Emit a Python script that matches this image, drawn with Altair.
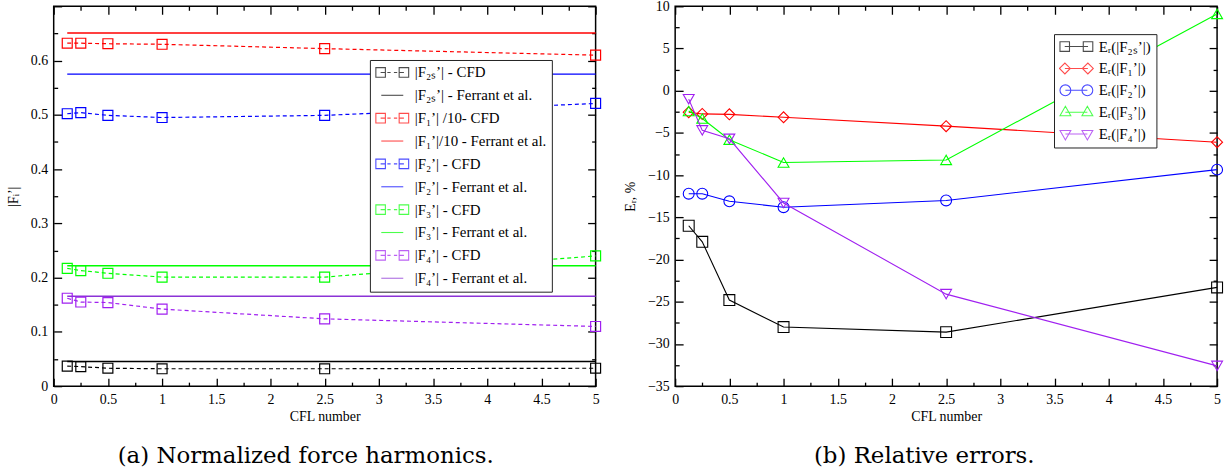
import altair as alt
import pandas as pd

# ---------------- data ----------------
cfl = [0.125, 0.25, 0.5, 1.0, 2.5, 5.0]
cfl_ferrant = [0.125, 5.0]

f2s_cfd = [0.037, 0.036, 0.033, 0.032, 0.032, 0.033]
f1_cfd = [0.632, 0.632, 0.631, 0.630, 0.622, 0.610]
f2_cfd = [0.502, 0.504, 0.499, 0.495, 0.499, 0.521]
f3_cfd = [0.217, 0.213, 0.208, 0.201, 0.201, 0.240]
f4_cfd = [0.162, 0.155, 0.154, 0.142, 0.124, 0.110]

f2s_ferrant = 0.0456
f1_ferrant = 0.651
f2_ferrant = 0.575
f3_ferrant = 0.222
f4_ferrant = 0.1655

er_f2s = [-16.0, -17.9, -24.8, -28.0, -28.6, -23.3]
er_f1 = [-2.55, -2.75, -2.8, -3.15, -4.2, -6.1]
er_f2 = [-12.2, -12.2, -13.1, -13.8, -13.0, -9.35]
er_f3 = [-2.4, -3.3, -5.8, -8.5, -8.2, 9.1]
er_f4 = [-1.0, -4.7, -5.7, -13.3, -24.1, -32.6]

left_names = ["|F₂ₛ’| - CFD", "|F₂ₛ’| - Ferrant et al.",
              "|F₁’| /10- CFD", "|F₁’|/10 - Ferrant et al.",
              "|F₂’| - CFD", "|F₂’| - Ferrant et al.",
              "|F₃’| - CFD", "|F₃’| - Ferrant et al.",
              "|F₄’| - CFD", "|F₄’| - Ferrant et al."]
right_names = ["Eᵣ(|F₂ₛ’|)", "Eᵣ(|F₁’|)", "Eᵣ(|F₂’|)", "Eᵣ(|F₃’|)", "Eᵣ(|F₄’|)"]

cfd_colors = ["#000000", "#ff0000", "#0000ff", "#00ff00", "#a020f0"]
ferrant_colors = ["#000000", "#ff0000", "#0000ff", "#00ff00", "#8b33d6"]
right_colors = ["#000000", "#ff0000", "#0000ff", "#00ff00", "#a020f0"]
right_shapes = ["square", "diamond", "circle", "triangle-up", "triangle-down"]

x_ticks = [0, 0.5, 1, 1.5, 2, 2.5, 3, 3.5, 4, 4.5, 5]
x_minor = [0.25, 0.75, 1.25, 1.75, 2.25, 2.75, 3.25, 3.75, 4.25, 4.75]
yl_labels = [0, 0.1, 0.2, 0.3, 0.4, 0.5, 0.6]
yl_ticks = [0, 0.1, 0.2, 0.3, 0.4, 0.5, 0.6, 0.7]
yl_minor = [0.05, 0.15, 0.25, 0.35, 0.45, 0.55, 0.65]
yr_ticks = [-35, -30, -25, -20, -15, -10, -5, 0, 5, 10]
yr_minor = [-32.5, -27.5, -22.5, -17.5, -12.5, -7.5, -2.5, 2.5, 7.5]

# ---------------- styling helpers ----------------
FONT = "Liberation Serif"
W, H = 545, 382

CFD_PATH = ("M-1,-0.29H-0.42V0.29H-1Z M-0.71,0H-0.42 M-0.3,0H-0.1 M0.1,0H0.3 "
            "M0.42,-0.29H1V0.29H0.42Z M0.42,0H0.71")
FER_PATH = "M-0.67,0H0.67"
R_PATHS = [
    "M-1,-0.29H-0.42V0.29H-1Z M0.42,-0.29H1V0.29H0.42Z M-0.71,0H0.71",
    "M-1.03,0L-0.7,-0.33L-0.37,0L-0.7,0.33Z M0.37,0L0.7,-0.33L1.03,0L0.7,0.33Z M-0.7,0H0.7",
    "M-1,0A0.33,0.33 0 1,0 -0.34,0A0.33,0.33 0 1,0 -1,0Z M0.34,0A0.33,0.33 0 1,0 1,0A0.33,0.33 0 1,0 0.34,0Z M-0.67,0H0.67",
    "M-1,0.22L-0.67,-0.36L-0.34,0.22Z M0.34,0.22L0.67,-0.36L1,0.22Z M-0.67,0H0.67",
    "M-1,-0.22L-0.67,0.36L-0.34,-0.22Z M0.34,-0.22L0.67,0.36L1,-0.22Z M-0.67,0H0.67",
]


def label_axis(orient, values, title, fmt="~g"):
    return alt.Axis(orient=orient, values=values, format=fmt, title=title,
                    ticks=False, domain=False, grid=False,
                    labelFlush=False, labelOverlap=False, labelPadding=6,
                    labelFont=FONT, labelFontSize=14, labelColor="black",
                    titleFont=FONT, titleFontSize=14, titleFontWeight="normal",
                    titleColor="black", titlePadding=4 if orient == "bottom" else 10)


def tick_axis(orient, values, size):
    return alt.Axis(orient=orient, values=values, labels=False, title=None,
                    ticks=True, tickSize=alt.ExprRef(expr=str(-size)),
                    tickColor="black", tickWidth=1.3, domain=False, grid=False)


def axis_layers(xs, ys, xmaj, xmin, ymaj, ymin):
    dummy = pd.DataFrame({"x": [0.0], "y": [0.0]})
    combos = [("bottom", "left", xmaj, ymaj, 8), ("top", "right", xmaj, ymaj, 8),
              ("bottom", "left", xmin, ymin, 4), ("top", "right", xmin, ymin, 4)]
    out = []
    for xo, yo, xv, yv, sz in combos:
        out.append(
            alt.Chart(dummy).mark_point(opacity=0).encode(
                x=alt.X("x:Q", scale=xs, axis=tick_axis(xo, xv, sz)),
                y=alt.Y("y:Q", scale=ys, axis=tick_axis(yo, yv, sz)),
            ).transform_filter("false")
        )
    return out


def legend(lx, ly, row_pad):
    return alt.Legend(title=None, orient="none", legendX=lx, legendY=ly,
                      padding=5, strokeColor="#222222", fillColor="white",
                      labelFont=FONT, labelFontSize=15, labelColor="black",
                      labelLimit=400, symbolSize=1089, symbolStrokeWidth=1.1,
                      symbolFillColor="transparent", symbolOffset=0,
                      labelOffset=5, rowPadding=row_pad, clipHeight=15)


def caption(text, dx):
    return alt.TitleParams(text=text, orient="bottom", anchor="middle",
                           font="DejaVu Serif", fontSize=23, fontWeight="normal",
                           color="black", offset=21, dx=dx)


# ---------------- left panel ----------------
xs_l = alt.Scale(domain=[0, 5], nice=False, zero=False)
ys_l = alt.Scale(domain=[0, 0.7], nice=False, zero=False)

cfd_vals = [f2s_cfd, f1_cfd, f2_cfd, f3_cfd, f4_cfd]
fer_vals = [f2s_ferrant, f1_ferrant, f2_ferrant, f3_ferrant, f4_ferrant]

left_layers = []
for i in range(5):
    dcfd = pd.DataFrame({"x": cfl, "y": cfd_vals[i]})
    dfer = pd.DataFrame({"x": cfl_ferrant, "y": [fer_vals[i]] * 2})
    xa = label_axis("bottom", x_ticks, "CFL number") if i == 0 else None
    ya = label_axis("left", yl_labels, "|Fᵢ’|") if i == 0 else None
    left_layers.append(
        alt.Chart(dfer).mark_line(strokeWidth=1.5, color=ferrant_colors[i]).encode(
            x=alt.X("x:Q", scale=xs_l, axis=xa), y=alt.Y("y:Q", scale=ys_l, axis=ya))
    )
    left_layers.append(
        alt.Chart(dcfd).mark_line(strokeWidth=1.2, strokeDash=[4, 3], color=cfd_colors[i]).encode(
            x=alt.X("x:Q", scale=xs_l, axis=None), y=alt.Y("y:Q", scale=ys_l, axis=None))
    )
    left_layers.append(
        alt.Chart(dcfd).mark_point(shape="square", size=100, filled=False, strokeWidth=1.2,
                                   color=cfd_colors[i], opacity=1).encode(
            x=alt.X("x:Q", scale=xs_l, axis=None), y=alt.Y("y:Q", scale=ys_l, axis=None))
    )

left_paths = [CFD_PATH if i % 2 == 0 else FER_PATH for i in range(10)]
left_leg_colors = []
for i in range(5):
    left_leg_colors += [cfd_colors[i], ferrant_colors[i]]
leg_l = legend(318, 54, 7)
left_layers.append(
    alt.Chart(pd.DataFrame({"series": left_names})).mark_point(filled=False).encode(
        shape=alt.Shape("series:N", scale=alt.Scale(domain=left_names, range=left_paths), legend=leg_l),
        stroke=alt.Stroke("series:N", scale=alt.Scale(domain=left_names, range=left_leg_colors), legend=leg_l),
    ).transform_filter("false")
)
left_layers += axis_layers(xs_l, ys_l, x_ticks, x_minor, yl_ticks, yl_minor)

left = alt.layer(*left_layers).resolve_axis(x="independent", y="independent").properties(
    width=W, height=H, title=caption("(a) Normalized force harmonics.", -19),
)

# ---------------- right panel ----------------
xs_r = alt.Scale(domain=[0, 5], nice=False, zero=False)
ys_r = alt.Scale(domain=[-35, 10], nice=False, zero=False)
er_vals = [er_f2s, er_f1, er_f2, er_f3, er_f4]

right_layers = []
for i in range(5):
    d = pd.DataFrame({"x": cfl, "y": er_vals[i]})
    xa = label_axis("bottom", x_ticks, "CFL number") if i == 0 else None
    ya = label_axis("left", yr_ticks, "Eᵣ, %") if i == 0 else None
    right_layers.append(
        alt.Chart(d).mark_line(strokeWidth=1.1, color=right_colors[i]).encode(
            x=alt.X("x:Q", scale=xs_r, axis=xa), y=alt.Y("y:Q", scale=ys_r, axis=ya))
    )
    right_layers.append(
        alt.Chart(d).mark_point(shape=right_shapes[i], size=120, filled=False, strokeWidth=1.1,
                                color=right_colors[i], opacity=1).encode(
            x=alt.X("x:Q", scale=xs_r, axis=None), y=alt.Y("y:Q", scale=ys_r, axis=None))
    )

leg_r = legend(381, 28, 6)
right_layers.append(
    alt.Chart(pd.DataFrame({"series": right_names})).mark_point(filled=False).encode(
        shape=alt.Shape("series:N", scale=alt.Scale(domain=right_names, range=R_PATHS), legend=leg_r),
        stroke=alt.Stroke("series:N", scale=alt.Scale(domain=right_names, range=right_colors), legend=leg_r),
    ).transform_filter("false")
)
right_layers += axis_layers(xs_r, ys_r, x_ticks, x_minor, yr_ticks, yr_minor)

right = alt.layer(*right_layers).resolve_axis(x="independent", y="independent").properties(
    width=W, height=H, title=caption("(b) Relative errors.", -22),
)

chart = alt.hconcat(left, right, spacing=18).resolve_scale(
    x="independent", y="independent", stroke="independent", shape="independent"
).resolve_legend(stroke="independent", shape="independent").configure_view(
    stroke="black", strokeWidth=1.5
).properties(
    padding={"left": 5, "top": -3, "right": 5, "bottom": 0}, background="white"
)

chart.save("out.html", embed_options={"renderer": "svg", "actions": False})
